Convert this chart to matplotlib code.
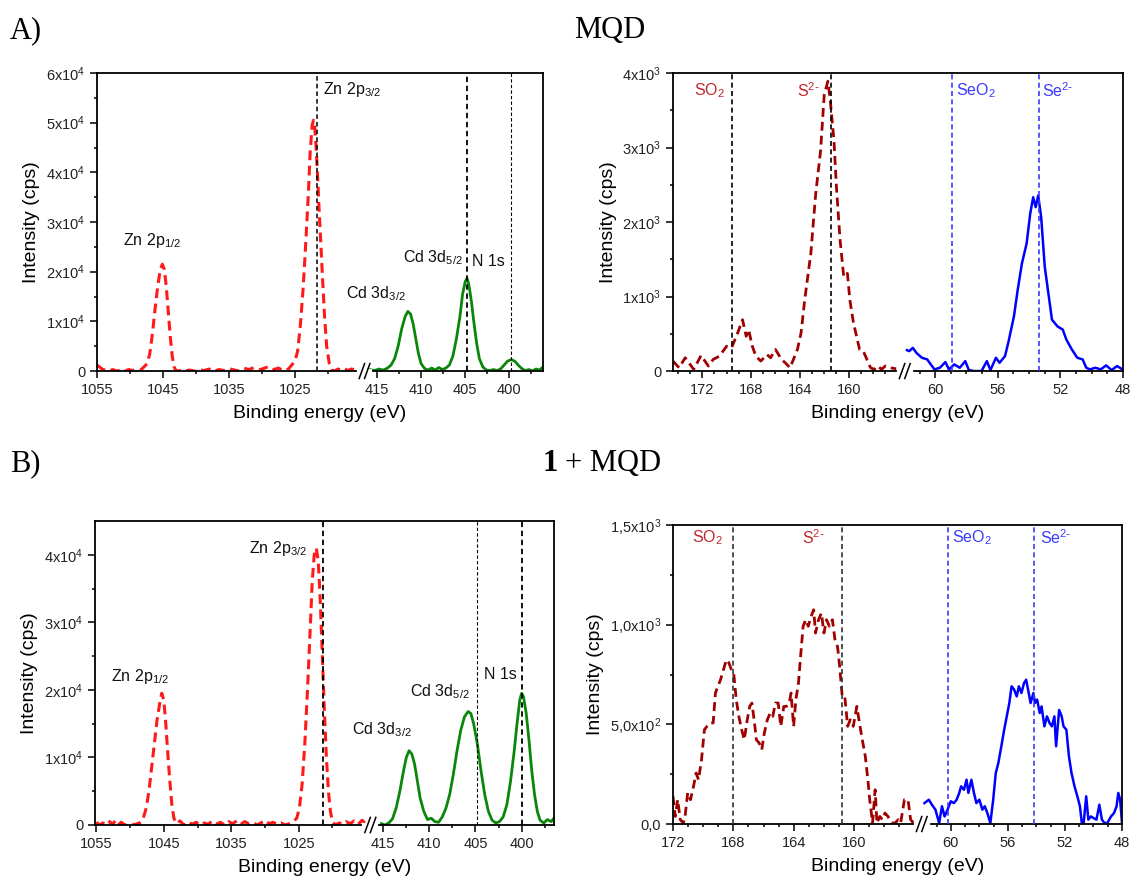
import numpy as np
import matplotlib
matplotlib.use("Agg")
import matplotlib.pyplot as plt
from matplotlib.ticker import FixedLocator, FixedFormatter

plt.rcParams['font.family'] = ['Liberation Sans', 'DejaVu Sans']
plt.rcParams['mathtext.default'] = 'regular'

# ---- A) MQD : Zn 2p / Cd 3d + N 1s ----
a_zn_e = [1055.0, 1054.6, 1054.2, 1053.8, 1053.2, 1052.6, 1052.0, 1051.4, 1050.8, 1050.2,
          1049.6, 1049.0, 1048.4, 1047.9, 1047.4, 1047.0, 1046.6, 1046.2, 1045.8, 1045.4,
          1045.1, 1044.8, 1044.5, 1044.2, 1043.9, 1043.6, 1043.3, 1043.0, 1042.5, 1041.8,
          1041.0, 1040.2, 1039.5, 1038.8, 1038.0, 1037.2, 1036.5, 1035.8, 1035.0, 1034.2,
          1033.5, 1032.8, 1032.0, 1031.2, 1030.5, 1029.8, 1029.0, 1028.2, 1027.5, 1026.8,
          1026.0, 1025.5, 1025.0, 1024.6, 1024.2, 1023.8, 1023.4, 1023.0, 1022.7, 1022.4,
          1022.2, 1022.0, 1021.8, 1021.6, 1021.4, 1021.1, 1020.8, 1020.5, 1020.2, 1019.8,
          1019.4, 1019.0, 1018.5, 1018.0, 1017.5, 1017.0, 1016.5, 1016.0, 1015.5]
a_zn_i = [1200, 800, 400, 200, 0, 300, 0, 200, 0, 300,
          100, 400, 200, 800, 1500, 3500, 7500, 12500, 17000, 20500,
          21500, 20500, 17000, 12000, 7000, 3000, 800, 0, 100, 0,
          200, 0, 300, 100, 400, 0, 300, 100, 500, 200,
          0, 600, 300, 700, 200, 500, 900, 300, 600, 100,
          400, 1200, 2000, 4000, 9000, 16000, 25000, 35000, 44000, 49500,
          50500, 49000, 45000, 40000, 34000, 26000, 18000, 10500, 5000, 1500,
          200, 0, 400, 200, 500, 100, 400, 300, 600]
a_cd_e = [416.7, 416.3, 415.8, 415.3, 414.8, 414.3, 413.8, 413.4, 413.0, 412.6,
          412.2, 411.8, 411.5, 411.2, 410.9, 410.6, 410.3, 410.0, 409.6, 409.2,
          408.8, 408.4, 408.0, 407.6, 407.2, 406.8, 406.4, 406.0, 405.6, 405.3,
          405.0, 404.8, 404.6, 404.3, 404.0, 403.7, 403.4, 403.0, 402.6, 402.2,
          401.8, 401.4, 401.0, 400.6, 400.2, 399.8, 399.4, 399.0, 398.6, 398.2,
          397.8, 397.4, 397.0, 396.6, 396.2]
a_cd_i = [200, 0, 300, 100, 400, 200, 600, 1200, 2500, 5000,
          8500, 11000, 12000, 11500, 9500, 6500, 3500, 1500, 500, 200,
          600, 200, 700, 300, 600, 1200, 3000, 6500, 11000, 15500,
          18000, 18700, 17500, 14000, 9500, 5500, 2500, 800, 200, 100,
          300, 100, 400, 1200, 2000, 2300, 2000, 1200, 500, 100,
          300, 0, 400, 200, 800]

# ---- MQD : S 2p / Se 3d ----
tr_s_e = [174.4, 173.9, 173.4, 172.7, 172.1, 171.5, 171.1, 170.6, 170.0, 169.6,
          169.1, 168.7, 168.4, 168.2, 167.9, 167.6, 167.2, 166.7, 166.4, 166.0,
          165.5, 165.2, 164.8, 164.2, 163.9, 163.6, 163.1, 162.7, 162.3, 162.0,
          161.7, 161.5, 161.2, 161.0, 160.7, 160.4, 160.1, 159.9, 159.6, 159.1,
          158.8, 158.5, 158.2, 157.9, 157.6, 157.3, 157.0, 156.6, 156.1]
tr_s_i = [133, 44, 178, 22, 209, 67, 156, 200, 333, 311,
          511, 689, 467, 556, 333, 200, 133, 222, 178, 289,
          156, 111, 44, 289, 511, 956, 1578, 2378, 2956, 3711,
          3889, 3622, 3089, 2467, 1756, 1267, 1311, 956, 644, 289,
          267, 156, 44, 22, 67, 22, 67, 44, 30]
tr_se_e = [61.8, 61.66, 61.43, 61.2, 60.85, 60.51, 60.28, 60.05, 59.7, 59.35,
           59.12, 58.78, 58.43, 58.08, 57.85, 57.51, 57.04, 56.7, 56.47, 56.12,
           55.89, 55.54, 55.31, 54.97, 54.73, 54.46, 54.16, 53.93, 53.74, 53.58,
           53.42, 53.23, 53.0, 52.77, 52.54, 52.19, 51.85, 51.62, 51.27, 50.92,
           50.58, 50.35, 50.12, 49.77, 49.42, 49.08, 48.73, 48.38, 48.04]
tr_se_i = [280, 267, 311, 244, 178, 156, 89, 22, 44, 120,
           22, 89, 44, 133, 13, 0, 0, 133, 13, 178,
           111, 200, 400, 733, 1089, 1444, 1711, 2111, 2333, 2200,
           2356, 2067, 1400, 1044, 689, 600, 556, 422, 289, 178,
           156, 44, 22, 44, 22, 76, 13, 67, 22]

# ---- B) 1 + MQD : Zn 2p / Cd 3d + N 1s ----
b_zn_e = [1055.0, 1054.5, 1054.0, 1053.5, 1053.0, 1052.6, 1052.2, 1051.8, 1051.3, 1050.8,
          1050.3, 1049.8, 1049.2, 1048.6, 1048.1, 1047.6, 1047.2, 1046.8, 1046.4, 1046.0,
          1045.6, 1045.3, 1045.0, 1044.7, 1044.4, 1044.1, 1043.8, 1043.5, 1043.1, 1042.6,
          1042.0, 1041.4, 1040.8, 1040.2, 1039.6, 1039.0, 1038.4, 1037.8, 1037.2, 1036.6,
          1036.0, 1035.4, 1034.8, 1034.2, 1033.6, 1033.0, 1032.4, 1031.8, 1031.2, 1030.6,
          1030.0, 1029.4, 1028.8, 1028.2, 1027.6, 1027.0, 1026.4, 1025.8, 1025.3, 1024.9,
          1024.5, 1024.1, 1023.7, 1023.3, 1023.0, 1022.7, 1022.4, 1022.1, 1021.8, 1021.5,
          1021.2, 1020.9, 1020.6, 1020.3, 1020.0, 1019.6, 1019.0, 1018.5, 1018.0, 1017.4,
          1016.8, 1016.2, 1015.6, 1015.2]
b_zn_i = [400, 0, 300, 0, 500, 100, 600, 0, 400, 0,
          200, 0, 100, 300, 800, 2500, 5000, 8500, 12000, 15500,
          18000, 19500, 18500, 15000, 10500, 6500, 3000, 1000, 200, 600,
          0, 500, 100, 400, 0, 300, 100, 600, 100, 400,
          0, 500, 200, 600, 100, 500, 200, 400, 0, 300,
          700, 200, 400, 100, 300, 0, 200, 500, 1000, 2500,
          6000, 12000, 20000, 29000, 36000, 40000, 41000, 39000, 33000, 25000,
          17000, 10000, 5000, 2000, 500, 0, 300, 100, 500, 200,
          600, 100, 700, 300]
b_cd_e = [415.2, 414.8, 414.4, 414.0, 413.6, 413.2, 412.8, 412.5, 412.2, 411.9,
          411.6, 411.3, 411.0, 410.6, 410.2, 409.8, 409.4, 409.0, 408.6, 408.2,
          407.8, 407.4, 407.0, 406.6, 406.2, 405.8, 405.5, 405.2, 404.8, 404.4,
          404.0, 403.6, 403.2, 402.8, 402.4, 402.0, 401.6, 401.2, 400.8, 400.5,
          400.2, 400.0, 399.8, 399.5, 399.2, 398.9, 398.6, 398.3, 398.0, 397.6,
          397.2, 396.8, 396.5]
b_cd_i = [200, 0, 300, 900, 2500, 5000, 8000, 10000, 11000, 10500,
          9000, 6500, 4000, 2000, 800, 1000, 500, 400, 1200, 2500,
          4500, 7500, 11000, 14000, 16000, 16800, 16500, 15000, 12000, 8000,
          4500, 2000, 700, 300, 500, 1200, 3000, 6500, 11000, 15000,
          18500, 19500, 19000, 16500, 12500, 8000, 4500, 2000, 700, 300,
          800, 500, 1000]

# ---- 1 + MQD : S 2p / Se 3d ----
br_s_e = [172.0, 171.85, 171.69, 171.52, 171.32, 171.2, 171.03, 170.84, 170.64, 170.47,
          170.31, 170.11, 169.92, 169.75, 169.51, 169.34, 169.19, 169.02, 168.85, 168.66,
          168.46, 168.3, 168.13, 167.98, 167.81, 167.64, 167.45, 167.28, 167.08, 166.92,
          166.77, 166.6, 166.48, 166.29, 166.12, 165.95, 165.75, 165.56, 165.39, 165.22,
          165.03, 164.86, 164.66, 164.49, 164.3, 164.18, 164.01, 163.86, 163.69, 163.53,
          163.38, 163.21, 163.04, 162.85, 162.68, 162.56, 162.36, 162.17, 162.0, 161.83,
          161.64, 161.44, 161.27, 161.1, 160.96, 160.79, 160.62, 160.43, 160.26, 160.06,
          159.82, 159.65, 159.46, 159.26, 159.09, 158.97, 158.78, 158.61, 158.49, 158.3,
          158.13, 157.96, 157.76, 157.52, 157.28, 157.08, 156.92, 156.67, 156.43, 156.26,
          156.07]
br_s_i = [139, 38, 122, 22, 5, 38, 156, 122, 189, 256,
          222, 323, 473, 490, 507, 507, 657, 692, 724, 774,
          824, 809, 774, 757, 624, 540, 473, 423, 523, 590,
          607, 507, 423, 406, 373, 457, 523, 557, 540, 607,
          607, 490, 590, 590, 607, 657, 490, 624, 707, 858,
          992, 1025, 992, 1042, 1075, 958, 1025, 1058, 958, 1025,
          992, 1025, 925, 890, 791, 640, 640, 490, 523, 490,
          590, 507, 423, 339, 222, 122, 5, 172, 5, 38,
          22, 55, 38, 5, 5, 22, 5, 122, 122, 22,
          5]
br_se_e = [61.85, 61.54, 61.33, 61.08, 60.82, 60.62, 60.44, 60.23, 60.0, 59.79,
           59.59, 59.41, 59.28, 59.08, 58.9, 58.77, 58.56, 58.38, 58.21, 58.0,
           57.79, 57.62, 57.44, 57.23, 57.03, 56.85, 56.67, 56.46, 56.26, 56.08,
           55.9, 55.74, 55.56, 55.38, 55.23, 55.05, 54.87, 54.72, 54.54, 54.41,
           54.21, 54.1, 53.95, 53.77, 53.64, 53.44, 53.26, 53.08, 52.92, 52.74,
           52.62, 52.41, 52.23, 52.1, 51.9, 51.72, 51.54, 51.33, 51.13, 50.95,
           50.82, 50.69, 50.51, 50.36, 50.18, 50.0, 49.79, 49.59, 49.41, 49.23,
           49.03, 48.77, 48.56, 48.38, 48.26, 48.13, 48.0]
br_se_i = [105, 122, 97, 72, 5, 89, 38, 72, 114, 105,
           122, 156, 189, 172, 222, 156, 222, 156, 105, 122,
           72, 89, 55, 5, 122, 256, 306, 390, 473, 540,
           607, 691, 674, 640, 691, 657, 707, 724, 657, 607,
           657, 607, 624, 557, 590, 490, 540, 507, 490, 540,
           390, 572, 540, 490, 473, 339, 256, 189, 139, 89,
           5, 5, 139, 22, 38, 30, 22, 97, 22, 5,
           5, 38, 55, 89, 156, 122, 5]

# peak markers
a_lines = [1021.7, 404.8, 399.8]
b_lines = [1021.4, 404.8, 400.0]
tr_s_lines = [169.6, 161.45]
tr_se_lines = [58.95, 53.4]
br_s_lines = [168.0, 160.8]
br_se_lines = [60.2, 54.15]

RED = '#ff1a1a'
GREEN = '#0a870a'
DKRED = '#a00000'
BLUE = '#0000ff'
LBLUE = '#3a3aff'
TXTRED = '#c0282d'
SUP2 = r'$^{2\text{-}}$'


def broken_scale(e, f):
    # piecewise linear energy -> axis position, squeezing the gap between segments
    e = np.asarray(e, float)
    f = np.asarray(f, float)
    s0 = (f[1] - f[0]) / (e[1] - e[0])
    s1 = (f[-1] - f[-2]) / (e[-1] - e[-2])
    e = np.r_[e[0] - 1e4, e, e[-1] + 1e4]
    f = np.r_[f[0] - 1e4 * s0, f, f[-1] + 1e4 * s1]
    return (lambda x: np.interp(x, e, f)), (lambda y: np.interp(y, f, e))


def setup(ax, knots, fracs, brk, xmaj, xmin, ylim, ymaj, ymin, ylabels):
    fwd, inv = broken_scale(knots, fracs)
    ax.set_xscale('function', functions=(fwd, inv))
    ax.set_xlim(knots[-1], knots[0])
    ax.set_ylim(*ylim)
    ax.xaxis.set_major_locator(FixedLocator(xmaj))
    ax.xaxis.set_major_formatter(FixedFormatter([str(v) for v in xmaj]))
    ax.xaxis.set_minor_locator(FixedLocator(xmin))
    ax.yaxis.set_major_locator(FixedLocator(ymaj))
    ax.yaxis.set_major_formatter(FixedFormatter(ylabels))
    ax.yaxis.set_minor_locator(FixedLocator(ymin))
    ax.tick_params(which='both', direction='out', width=1.1, labelsize=10.5,
                   labelcolor='#222222')
    ax.tick_params(which='major', length=5)
    ax.tick_params(which='minor', length=2.5)
    for sp in ax.spines.values():
        sp.set_linewidth(1.3)
    ax.set_xlabel('Binding energy (eV)', fontsize=14, labelpad=6)
    ax.set_ylabel('Intensity (cps)', fontsize=14, labelpad=4)
    # axis break mark
    ax.plot([brk - 0.013, brk + 0.013], [0, 0], color='white', lw=3,
            transform=ax.transAxes, clip_on=False, zorder=5)
    for dx in (-0.006, 0.006):
        ax.plot([brk + dx - 0.006, brk + dx + 0.006], [-0.025, 0.025], color='k',
                lw=1.1, transform=ax.transAxes, clip_on=False, zorder=6)


def label(ax, x, y, s, color='#111111', size=11.5):
    ax.text(x, y, s, transform=ax.transAxes, ha='left', va='center',
            fontsize=size, color=color)


fig = plt.figure(figsize=(11.33, 8.83), dpi=100)
ax_a = fig.add_axes([0.0856, 0.5798, 0.3936, 0.3375])
ax_tr = fig.add_axes([0.594, 0.5798, 0.3972, 0.3375])
ax_b = fig.add_axes([0.0838, 0.0657, 0.4051, 0.3443])
ax_br = fig.add_axes([0.594, 0.0668, 0.3963, 0.3386])

zn_maj = [1055, 1045, 1035, 1025, 415, 410, 405, 400]
zn_min = [1050, 1040, 1030, 1020, 412.5, 407.5, 402.5, 397.5]
s_maj = [172, 168, 164, 160, 60, 56, 52, 48]
s_min = [v for v in range(157, 175) if v not in s_maj] + \
        [v for v in range(49, 62) if v not in s_maj]

# A)
setup(ax_a, [396.2, 416, 1015, 1055], [0, 0.392, 0.408, 1.0], 0.600,
      zn_maj, zn_min, (0, 60000), np.arange(0, 60001, 10000),
      np.arange(5000, 60000, 10000),
      ['0'] + ['%dx10$^{4}$' % k for k in range(1, 7)])
ax_a.plot(a_zn_e, a_zn_i, color=RED, lw=2.2, ls=(0, (3.2, 1.8)))
ax_a.plot(a_cd_e, a_cd_i, color=GREEN, lw=2.0)
for x, lw in zip(a_lines, [1.1, 1.3, 0.8]):
    ax_a.axvline(x, color='k', lw=lw, ls=(0, (3, 2)), zorder=3)
label(ax_a, 0.058, 0.438, 'Zn 2p$_{1/2}$')
label(ax_a, 0.506, 0.944, 'Zn 2p$_{3/2}$')
label(ax_a, 0.558, 0.260, 'Cd 3d$_{3/2}$')
label(ax_a, 0.686, 0.380, 'Cd 3d$_{5/2}$')
label(ax_a, 0.842, 0.366, 'N 1s')

# MQD, S / Se region
setup(ax_tr, [48, 61.8, 155.6, 174.4], [0, 0.480, 0.4905, 1.0], 0.515,
      s_maj, s_min, (0, 4000), np.arange(0, 4001, 1000),
      np.arange(500, 4000, 1000),
      ['0'] + ['%dx10$^{3}$' % k for k in range(1, 5)])
ax_tr.plot(tr_s_e, tr_s_i, color=DKRED, lw=2.0, ls=(0, (3.2, 1.8)))
ax_tr.plot(tr_se_e, tr_se_i, color=BLUE, lw=1.8)
for x in tr_s_lines:
    ax_tr.axvline(x, color='k', lw=1.2, ls=(0, (3, 2)), zorder=3)
for x in tr_se_lines:
    ax_tr.axvline(x, color=LBLUE, lw=1.2, ls=(0, (3, 2)), zorder=3)
label(ax_tr, 0.0475, 0.942, 'SO$_{2}$', TXTRED)
label(ax_tr, 0.275, 0.942, 'S' + SUP2, TXTRED)
label(ax_tr, 0.628, 0.942, 'SeO$_{2}$', LBLUE)
label(ax_tr, 0.821, 0.942, 'Se' + SUP2, LBLUE)

# B)
setup(ax_b, [396.5, 416, 1015, 1055.2], [0, 0.392, 0.409, 1.0], 0.600,
      zn_maj, zn_min, (0, 45000), np.arange(0, 40001, 10000),
      np.arange(5000, 45000, 10000),
      ['0'] + ['%dx10$^{4}$' % k for k in range(1, 5)])
ax_b.plot(b_zn_e, b_zn_i, color=RED, lw=2.2, ls=(0, (3.2, 1.8)))
ax_b.plot(b_cd_e, b_cd_i, color=GREEN, lw=2.0)
for x, lw in zip(b_lines, [1.3, 0.8, 1.3]):
    ax_b.axvline(x, color='k', lw=lw, ls=(0, (3, 2)), zorder=3)
label(ax_b, 0.035, 0.487, 'Zn 2p$_{1/2}$')
label(ax_b, 0.336, 0.909, 'Zn 2p$_{3/2}$')
label(ax_b, 0.559, 0.312, 'Cd 3d$_{3/2}$')
label(ax_b, 0.687, 0.438, 'Cd 3d$_{5/2}$')
label(ax_b, 0.848, 0.495, 'N 1s')

# 1 + MQD, S / Se region
setup(ax_br, [48, 61.85, 155.7, 172], [0, 0.44, 0.452, 1.0], 0.554,
      s_maj, [v for v in s_min if v < 172], (0, 1500), [0, 500, 1000, 1500],
      np.arange(250, 1500, 500),
      ['0,0', '5,0x10$^{2}$', '1,0x10$^{3}$', '1,5x10$^{3}$'])
ax_br.plot(br_s_e, br_s_i, color=DKRED, lw=2.0, ls=(0, (3.2, 1.8)))
ax_br.plot(br_se_e, br_se_i, color=BLUE, lw=1.8)
for x in br_s_lines:
    ax_br.axvline(x, color='#333333', lw=1.2, ls=(0, (3, 2)), zorder=3)
for x in br_se_lines:
    ax_br.axvline(x, color=LBLUE, lw=1.2, ls=(0, (3, 2)), zorder=3)
label(ax_br, 0.043, 0.957, 'SO$_{2}$', TXTRED)
label(ax_br, 0.287, 0.957, 'S' + SUP2, TXTRED)
label(ax_br, 0.622, 0.957, 'SeO$_{2}$', LBLUE)
label(ax_br, 0.817, 0.957, 'Se' + SUP2, LBLUE)

# panel headings
serif = ['Liberation Serif', 'DejaVu Serif']
fig.text(0.009, 0.965, 'A)', fontsize=22, family=serif, va='center')
fig.text(0.507, 0.965, 'MQD', fontsize=22, family=serif, va='center')
fig.text(0.009, 0.475, 'B)', fontsize=22, family=serif, va='center')
fig.text(0.479, 0.475, '1', fontsize=22, family=serif, va='center', weight='bold')
fig.text(0.499, 0.475, '+ MQD', fontsize=22, family=serif, va='center')

fig.savefig('out.png', dpi=100)
